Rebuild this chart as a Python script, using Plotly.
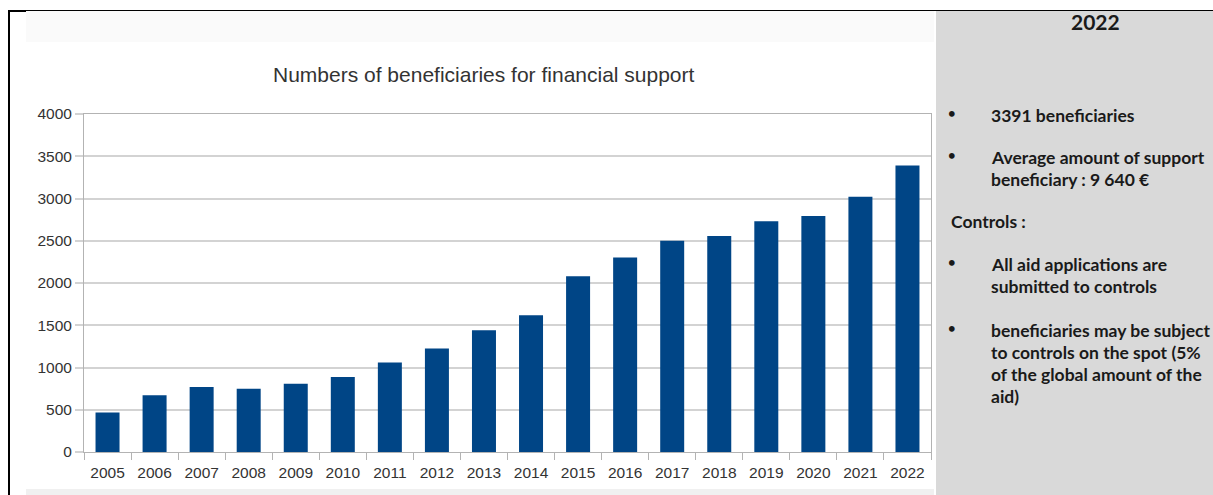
import plotly.graph_objects as go

# Yearly number of beneficiaries of financial support
years = [str(y) for y in range(2005, 2023)]
beneficiaries = [466, 671, 770, 750, 809, 888, 1058, 1224, 1441, 1619,
                 2081, 2302, 2499, 2555, 2732, 2792, 3021, 3391]

y_ticks = [0, 500, 1000, 1500, 2000, 2500, 3000, 3500, 4000]

title_text = "Numbers of beneficiaries for financial support"
panel_title = "2022"
panel_items = [
    ("bullet", ["3391 beneficiaries"]),
    ("bullet", ["Average amount of support", "beneficiary : 9 640 €"]),
    ("plain", ["Controls :"]),
    ("bullet", ["All aid applications are", "submitted to controls"]),
    ("bullet", ["beneficiaries may be subject", "to controls on the spot (5%",
                "of the global amount of the", "aid)"]),
]

W_FIG, H_FIG = 1213, 495
L, R, T, B = 84, 931, 114, 452
PW, PH = R - L, B - T


def xp(px):
    return (px - L) / PW


def yp(py):
    return (B - py) / PH


BAR = "#004586"
GRID = "#d3d3d3"
AXIS = "#b3b3b3"
TXT = "#333333"
PANEL_TXT = "#1a1a1a"

fig = go.Figure()
fig.add_trace(go.Bar(x=years, y=beneficiaries, marker_color=BAR,
                     marker_line_width=0, width=0.51, hoverinfo="x+y"))

shapes = [
    # side panel
    dict(type="rect", xref="paper", yref="paper", x0=xp(936), x1=xp(1214),
         y0=yp(11), y1=yp(496), fillcolor="#d9d9d9", line_width=0, layer="below"),
    # faint header band of the chart block
    dict(type="rect", xref="paper", yref="paper", x0=xp(26), x1=xp(934),
         y0=yp(11), y1=yp(42), fillcolor="#fafafa", line_width=0, layer="below"),
    # faint footer band
    dict(type="rect", xref="paper", yref="paper", x0=xp(26), x1=xp(934),
         y0=yp(489), y1=yp(496), fillcolor="#f0f0f0", line_width=0, layer="below"),
    # frame lines
    dict(type="line", xref="paper", yref="paper", x0=xp(8), x1=xp(1214),
         y0=yp(10.5), y1=yp(10.5), line=dict(color="black", width=1)),
    dict(type="line", xref="paper", yref="paper", x0=xp(9), x1=xp(9),
         y0=yp(10), y1=yp(496), line=dict(color="black", width=2)),
    dict(type="line", xref="paper", yref="paper", x0=xp(8), x1=xp(26),
         y0=yp(11), y1=yp(11), line=dict(color="black", width=2)),
]

annotations = [
    dict(text=title_text, xref="paper", yref="paper", x=xp(484), y=yp(75),
         xanchor="center", yanchor="middle", showarrow=False,
         font=dict(family="Liberation Sans", size=21, color=TXT)),
    dict(text="<b>" + panel_title + "</b>", xref="paper", yref="paper",
         x=xp(1095), y=yp(22), xanchor="center", yanchor="middle", showarrow=False,
         font=dict(family="Lato", size=21, color=PANEL_TXT)),
]

panel_font = dict(family="Lato", size=17.5, color=PANEL_TXT)
bullet_font = dict(family="Lato", size=13, color=PANEL_TXT)
line_h = 22.3
starts = [115, 157, 221, 264, 330]
for (kind, lines), y0 in zip(panel_items, starts):
    if kind == "bullet":
        annotations.append(dict(text="<b>•</b>", xref="paper", yref="paper",
                                x=xp(952), y=yp(y0 - 2), xanchor="center",
                                yanchor="middle", showarrow=False, font=bullet_font))
        x_text = 989
    else:
        x_text = 949
    for i, line in enumerate(lines):
        annotations.append(dict(text="<b>" + line + "</b>", xref="paper", yref="paper",
                                x=xp(x_text), y=yp(y0 + i * line_h),
                                xanchor="left", yanchor="middle",
                                showarrow=False, font=panel_font))

fig.update_layout(
    width=W_FIG, height=H_FIG,
    margin=dict(l=L, r=W_FIG - R, t=T, b=H_FIG - B, pad=0),
    paper_bgcolor="white", plot_bgcolor="white",
    showlegend=False,
    shapes=shapes, annotations=annotations,
    xaxis=dict(type="category", range=[-0.5, 17.5], tickson="boundaries",
               ticks="outside", ticklen=7, tickcolor=AXIS, tickwidth=1,
               ticklabelstandoff=6,
               showline=True, linecolor=AXIS, linewidth=1, mirror=True,
               showgrid=False, fixedrange=True,
               tickfont=dict(family="Liberation Sans", size=15.5, color=TXT)),
    yaxis=dict(range=[0, 4000], tickvals=y_ticks,
               ticks="outside", ticklen=8, tickcolor=GRID, tickwidth=2,
               showline=True, linecolor=AXIS, linewidth=1, mirror=True,
               showgrid=True, gridcolor=GRID, gridwidth=2, zeroline=False,
               fixedrange=True,
               tickfont=dict(family="Liberation Sans", size=15.5, color=TXT)),
    bargap=0.49,
)

fig.write_html("out.html", config=dict(displayModeBar=False))
